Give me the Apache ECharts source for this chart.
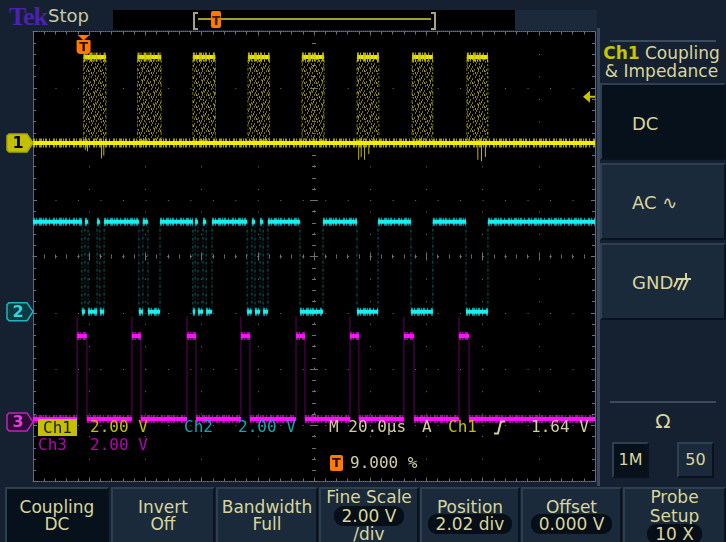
<!DOCTYPE html>
<html>
<head>
<meta charset="utf-8">
<title>Tek — Ch1 Coupling &amp; Impedance</title>
<script src="https://cdn.jsdelivr.net/npm/echarts@6/dist/echarts.min.js"></script>
<style>
  html, body { margin:0; padding:0; width:726px; height:542px; overflow:hidden; background:#152131; }
  .abs { position:absolute; }
  #scope { position:absolute; left:0; top:0; width:726px; height:542px; z-index:1; }
  .ui { font-family:"DejaVu Sans", sans-serif; color:#d9d59d; }
  .mono { position:absolute; font-family:"DejaVu Sans Mono", monospace; font-size:16px; line-height:18px; white-space:pre; z-index:2; }
  .btn { position:absolute; box-sizing:border-box; background:#1a2a3b;
         border-top:2px solid #2e3f52; border-left:2px solid #2e3f52;
         border-right:2px solid #0a121c; border-bottom:2px solid #0a121c; }
  .btn.sel { background:#07111c; }
  .bm { top:487px; height:57px; font-size:17px; text-align:center; }
  .bm .t { position:absolute; left:0; right:0; line-height:18px; white-space:nowrap; }
  .pill { background:#060e18; border-radius:9px; padding:0 8px; }
  .rp { font-size:18px; }
  .rp .t { position:absolute; left:30px; line-height:20px; white-space:nowrap; }
</style>
</head>
<body>

<!-- top status bar -->
<div class="abs" style="left:9px;top:2px;font:bold 26px 'Liberation Serif',serif;color:#4b22b0;letter-spacing:-1px;">Tek</div>
<div class="abs ui" style="left:48px;top:5px;font-size:18px;color:#c9c8a4;">Stop</div>
<div class="abs" style="left:113px;top:10px;width:402px;height:20px;background:#000;"></div>
<div class="abs" style="left:515px;top:10px;width:82px;height:20px;background:#1c293a;"></div>
<div class="abs" style="left:193px;top:12px;width:3px;height:14px;border:2px solid #a8a47a;border-right:none;"></div>
<div class="abs" style="left:431px;top:12px;width:3px;height:14px;border:2px solid #a8a47a;border-left:none;"></div>
<div class="abs" style="left:198px;top:18px;width:233px;height:2px;background:#a29e2c;"></div>
<div class="abs" style="left:211px;top:11px;width:10px;height:17px;background:#ff7800;border-radius:2px;font:bold 12px 'DejaVu Sans';color:#402000;text-align:center;line-height:20px;">T</div>

<!-- right side menu -->
<div class="abs" style="left:597px;top:28px;width:3px;height:458px;background:#3a4a5c;"></div>
<div class="abs" style="left:610px;top:40px;width:106px;height:2px;background:#3b4c5f;"></div>
<div class="abs ui" style="left:597px;top:44px;width:129px;text-align:center;font-size:17px;line-height:18px;white-space:nowrap;"><b style="color:#c8c400;">Ch1</b> Coupling</div>
<div class="abs ui" style="left:597px;top:62px;width:129px;text-align:center;font-size:17px;line-height:18px;white-space:nowrap;">&amp; Impedance</div>
<div class="btn sel ui rp" style="left:600px;top:83px;width:126px;height:77px;"><div class="t" style="top:29px;">DC</div></div>
<div class="btn ui rp" style="left:600px;top:163px;width:126px;height:77px;"><div class="t" style="top:28px;">AC ∿</div></div>
<div class="btn ui rp" style="left:600px;top:243px;width:126px;height:77px;"><div class="t" style="top:28px;">GND<svg width="20" height="18" viewBox="0 0 20 18" style="vertical-align:-2px;"><path d="M3 6 H18 M13 0 V6 M15 6 L10 17 M10 6 L5 17 M5 6 L1 14" stroke="#d9d59d" stroke-width="2" fill="none"/></svg></div></div>
<div class="abs" style="left:610px;top:401px;width:106px;height:2px;background:#3b4c5f;"></div>
<div class="abs ui" style="left:640px;top:409px;width:46px;text-align:center;font-size:20px;line-height:24px;">Ω</div>
<div class="btn sel ui" style="left:612px;top:442px;width:37px;height:36px;font-size:16px;text-align:center;line-height:32px;">1M</div>
<div class="btn ui" style="left:677px;top:442px;width:37px;height:36px;font-size:16px;text-align:center;line-height:32px;">50</div>

<!-- bottom menu -->
<div class="btn sel ui bm" style="left:5px;width:104px;"><div class="t" style="top:9px;">Coupling</div><div class="t" style="top:26px;">DC</div></div>
<div class="btn ui bm" style="left:111px;width:104px;"><div class="t" style="top:9px;">Invert</div><div class="t" style="top:26px;">Off</div></div>
<div class="btn ui bm" style="left:216px;width:102px;"><div class="t" style="top:9px;">Bandwidth</div><div class="t" style="top:26px;">Full</div></div>
<div class="btn ui bm" style="left:319px;width:100px;"><div class="t" style="top:-1px;">Fine Scale</div><div class="t" style="top:18px;"><span class="pill">2.00 V</span></div><div class="t" style="top:36px;">/div</div></div>
<div class="btn ui bm" style="left:420px;width:100px;"><div class="t" style="top:9px;">Position</div><div class="t" style="top:26px;"><span class="pill">2.02 div</span></div></div>
<div class="btn ui bm" style="left:521px;width:101px;"><div class="t" style="top:9px;">Offset</div><div class="t" style="top:26px;"><span class="pill">0.000 V</span></div></div>
<div class="btn ui bm" style="left:623px;width:103px;"><div class="t" style="top:-1px;">Probe</div><div class="t" style="top:18px;">Setup</div><div class="t" style="top:36px;"><span class="pill">10 X</span></div></div>

<div id="scope"></div>

<!-- on-screen readouts -->
<div class="mono" style="left:38px;top:419px;width:39px;height:17px;background:#c4c000;color:#1a1a00;text-align:center;line-height:17px;">Ch1</div>
<div class="mono" style="left:90px;top:418px;color:#c4c000;">2.00 V</div>
<div class="mono" style="left:184px;top:418px;color:#10a8b4;">Ch2</div>
<div class="mono" style="left:238px;top:418px;color:#10a8b4;">2.00 V</div>
<div class="mono" style="left:329px;top:418px;color:#d3cfa2;">M 20.0µs</div>
<div class="mono" style="left:422px;top:418px;color:#d3cfa2;">A</div>
<div class="mono" style="left:448px;top:418px;color:#c4c000;">Ch1</div>
<svg class="abs" style="left:493px;top:420px;z-index:2;" width="14" height="15" viewBox="0 0 14 15"><path d="M1 13.5 H5 L8 1.5 H12" stroke="#d3cfa2" stroke-width="2" fill="none"/></svg>
<div class="mono" style="left:531px;top:418px;color:#d3cfa2;">1.64 V</div>
<div class="mono" style="left:38px;top:436px;color:#b800b8;">Ch3</div>
<div class="mono" style="left:90px;top:436px;color:#b800b8;">2.00 V</div>
<div class="abs" style="left:330px;top:455px;width:13px;height:16px;background:#ff7a00;border-radius:2px;z-index:2;font:bold 13px 'DejaVu Sans';color:#2a1000;text-align:center;line-height:16px;">T</div>
<div class="mono" style="left:350px;top:454px;color:#d3cfa2;">9.000 %</div>

<script>
// Horizontal: 20 µs/div over 10 divisions; vertical: 8 divisions, 2 V/div on every channel.
const X_MIN = 0, X_MAX = 200, X_DIV = 20;
const Y_MIN = -4, Y_MAX = 4;
const VOLTS_PER_DIV = 2;

const triggerTime = 18;     // µs from left edge (9.000 % of record)
const triggerLevel = 1.64;  // V on Ch1

// Channel 1 (yellow): quiet line with bursts of activity
const ch1Offset = 2.02;
const ch1Levels = [0.0, 3.05];            // low, high (V)
const ch1BurstStart = [18.0, 37.2, 56.9, 76.5, 95.7, 115.3, 134.9, 154.4];
const ch1BurstEnd   = [26.0, 45.6, 64.9, 84.2, 103.6, 123.1, 142.3, 161.9];
const ch1SpikeTimes = [18.6, 19.4, 24.4, 25.2, 115.9, 116.8, 118.0, 119.5, 158.3, 159.6, 161.0];
const ch1SpikeVolts = [-0.25, -0.3, -0.55, -0.45, -0.6, -0.5, -0.6, -0.4, -0.6, -0.65, -0.5];

// Channel 2 (cyan): idles high, drops low during each burst
const ch2Offset = -0.98;
const ch2Levels = [0.0, 3.2];
const ch2LowStart = [17.4, 19.6, 23.8, 37.7, 40.9, 56.9, 58.7, 61.6, 76.2, 79.0, 81.9, 95.0, 115.3, 134.5, 154.1];
const ch2LowEnd   = [18.5, 22.8, 25.3, 39.1, 45.2, 57.7, 60.5, 63.7, 77.9, 80.8, 83.6, 103.2, 122.8, 142.3, 161.9];

// Channel 3 (magenta): short strobe ahead of each burst
const ch3Offset = -2.94;
const ch3Levels = [0.1, 3.05];
const ch3Overshoot = 3.75;
const ch3PulseStart = [15.7, 35.2, 54.8, 74.0, 93.6, 112.8, 132.0, 151.6];
const ch3PulseEnd   = [19.2, 38.4, 58.0, 77.2, 96.8, 116.0, 135.6, 155.2];

const toDiv = (offset, volts) => offset + volts / VOLTS_PER_DIV;
const GAP = '-';

function flatSegments(starts, ends, y) {
  const d = [];
  starts.forEach((s, i) => { d.push([s, y], [ends[i], y], [ends[i], GAP]); });
  return d;
}
function verticals(times, yFrom, yTo) {
  const d = [];
  times.forEach((t, i) => {
    const a = Array.isArray(yFrom) ? yFrom[i] : yFrom;
    const b = Array.isArray(yTo) ? yTo[i] : yTo;
    d.push([t, a], [t, b], [t, GAP]);
  });
  return d;
}
// idle-high signal with low intervals
function idleHigh(lowStart, lowEnd, lo, hi) {
  const low = [], high = [], edge = [];
  let t = X_MIN;
  lowStart.forEach((s, i) => {
    high.push([t, hi], [s, hi], [s, GAP]);
    low.push([s, lo], [lowEnd[i], lo], [lowEnd[i], GAP]);
    edge.push([s, hi], [s, lo], [s, GAP], [lowEnd[i], lo], [lowEnd[i], hi], [lowEnd[i], GAP]);
    t = lowEnd[i];
  });
  high.push([t, hi], [X_MAX, hi]);
  return { low, high, edge };
}
// idle-low signal with high pulses (rising edge overshoots)
function idleLow(pStart, pEnd, lo, hi, over) {
  const low = [], high = [], edge = [];
  let t = X_MIN;
  pStart.forEach((s, i) => {
    low.push([t, lo], [s, lo], [s, GAP]);
    high.push([s, hi], [pEnd[i], hi], [pEnd[i], GAP]);
    edge.push([s, lo], [s, over], [s, GAP], [pEnd[i], hi], [pEnd[i], lo], [pEnd[i], GAP]);
    t = pEnd[i];
  });
  low.push([t, lo], [X_MAX, lo]);
  return { low, high, edge };
}

// dot texture for the persistence inside each burst
function burstTile() {
  const c = document.createElement('canvas');
  c.width = 12; c.height = 12;
  const g = c.getContext('2d');
  g.fillStyle = 'rgba(150,142,16,1)';
  [[0,0],[5,1],[9,0],[2,3],[7,4],[11,3],[4,6],[9,7],[0,7],[6,9],[2,10],[10,10],[8,2],[3,8],[11,6],[5,11]]
    .forEach(([x, y]) => g.fillRect(x, y, 1, 2));
  g.fillStyle = 'rgba(200,190,30,1)';
  [[1,5],[7,0],[10,8],[4,10]].forEach(([x, y]) => g.fillRect(x, y, 1, 2));
  return c;
}

const c1lo = toDiv(ch1Offset, ch1Levels[0]), c1hi = toDiv(ch1Offset, ch1Levels[1]);
const c2 = idleHigh(ch2LowStart, ch2LowEnd, toDiv(ch2Offset, ch2Levels[0]), toDiv(ch2Offset, ch2Levels[1]));
const c3 = idleLow(ch3PulseStart, ch3PulseEnd, toDiv(ch3Offset, ch3Levels[0]), toDiv(ch3Offset, ch3Levels[1]), toDiv(ch3Offset, ch3Overshoot));

const FUZZ = [2, 1, 1, 2, 3, 1, 1, 1, 2, 2, 1, 3];
function trace(name, data, color, width, z, extra) {
  return Object.assign({
    name, type: 'line', data, xAxisIndex: 0, yAxisIndex: 0,
    symbol: 'none', showSymbol: false, connectNulls: false, silent: true, z,
    animation: false, emphasis: { disabled: true },
    lineStyle: { color, width, cap: 'butt', join: 'miter' }
  }, extra || {});
}
function fuzz(name, data, color, width, z) {
  return trace(name, data, color, width, z, { lineStyle: { color, width, type: FUZZ, cap: 'butt' } });
}
function faint(name, data, color, z) {
  return trace(name, data, color, 1, z, { lineStyle: { color, width: 1, type: [3, 2, 1, 2], cap: 'butt' } });
}

const GRID = '#707070', EDGE = '#68708a';
const DOTS = [1, 21.48];
function xAx(pos, offset, inside, grid, line) {
  return {
    type: 'value', min: X_MIN, max: X_MAX, interval: X_DIV, position: pos, offset,
    axisLine: { show: true, onZero: false, lineStyle: { color: line ? EDGE : GRID, width: 1, type: line ? [1, 1] : DOTS } },
    axisTick: { show: true, inside, length: 4, lineStyle: { color: line ? EDGE : GRID } },
    minorTick: { show: true, splitNumber: 5, length: line ? 3 : 2, lineStyle: { color: line ? EDGE : GRID } },
    axisLabel: { show: false },
    splitLine: { show: grid, lineStyle: { color: GRID, width: 1, type: DOTS } }
  };
}
function yAx(pos, offset, inside, grid, line) {
  return {
    type: 'value', min: Y_MIN, max: Y_MAX, interval: 1, position: pos, offset,
    axisLine: { show: true, onZero: false, lineStyle: { color: line ? EDGE : GRID, width: 1, type: line ? [1, 1] : DOTS } },
    axisTick: { show: true, inside, length: 4, lineStyle: { color: line ? EDGE : GRID } },
    minorTick: { show: true, splitNumber: 5, length: line ? 3 : 2, lineStyle: { color: line ? EDGE : GRID } },
    axisLabel: { show: false },
    splitLine: { show: grid, lineStyle: { color: GRID, width: 1, type: DOTS } }
  };
}

const chart = echarts.init(document.getElementById('scope'), null, { renderer: 'canvas' });
chart.setOption({
  animation: false,
  backgroundColor: 'transparent',
  grid: { left: 33, top: 31.5, width: 562, height: 450, show: true, backgroundColor: '#000', borderWidth: 0, outerBoundsMode: 'none', containLabel: false },
  xAxis: [
    xAx('bottom', 0, true, true, true),
    xAx('top', 0, true, false, true),
    xAx('bottom', -225, false, false, false),
    xAx('top', -225, false, false, false)
  ],
  yAxis: [
    yAx('left', 0, true, true, true),
    yAx('right', 0, true, false, true),
    yAx('left', -281, false, false, false),
    yAx('right', -281, false, false, false)
  ],
  series: [
    // Ch1
    trace('Ch1 bursts', flatSegments(ch1BurstStart, ch1BurstEnd, c1hi), '#ece800', 4, 2, {
      markArea: {
        silent: true, label: { show: false },
        itemStyle: { color: { image: burstTile(), repeat: 'repeat' }, opacity: 0.8 },
        data: ch1BurstStart.map((s, i) => [{ coord: [s, c1lo] }, { coord: [ch1BurstEnd[i], c1hi] }])
      }
    }),
    fuzz('Ch1 bursts fuzz', flatSegments(ch1BurstStart, ch1BurstEnd, c1hi), 'rgba(205,200,0,0.85)', 9, 2),
    faint('Ch1 edges', verticals(ch1BurstStart.concat(ch1BurstEnd), c1lo, c1hi), 'rgba(200,195,20,0.6)', 3),
    trace('Ch1 spikes', verticals(ch1SpikeTimes, c1lo, ch1SpikeVolts.map(v => toDiv(ch1Offset, v))), 'rgba(220,215,20,0.85)', 1, 3),
    fuzz('Ch1 fuzz', [[X_MIN, c1lo], [X_MAX, c1lo]], 'rgba(190,185,0,0.85)', 9, 4),
    trace('Ch1', [[X_MIN, c1lo], [X_MAX, c1lo]], '#f2ee00', 4, 5),
    // Ch2
    faint('Ch2 edges', c2.edge, 'rgba(0,175,180,0.6)', 6),
    fuzz('Ch2 fuzz hi', c2.high, 'rgba(0,190,200,0.85)', 8, 6),
    fuzz('Ch2 fuzz lo', c2.low, 'rgba(0,190,200,0.85)', 8, 6),
    trace('Ch2 hi', c2.high, '#18f0f0', 4, 7),
    trace('Ch2 lo', c2.low, '#18f0f0', 4, 7),
    // Ch3
    trace('Ch3 edges', c3.edge, 'rgba(180,0,180,0.55)', 1, 8),
    fuzz('Ch3 fuzz hi', c3.high, 'rgba(210,0,210,0.85)', 8, 8),
    fuzz('Ch3 fuzz lo', c3.low, 'rgba(210,0,210,0.85)', 8, 8),
    trace('Ch3 hi', c3.high, '#ff10ff', 4, 9),
    trace('Ch3 lo', c3.low, '#ff10ff', 4, 9)
  ]
});

// channel ground markers, trigger position and trigger level, placed through the axes
function px(x, y) { return chart.convertToPixel({ seriesIndex: 0 }, [x, y]); }
const leftX = px(X_MIN, 0)[0], rightX = px(X_MAX, 0)[0], topY = px(0, Y_MAX)[1];
function marker(offset, label, fill, stroke, textColor) {
  const y = px(X_MIN, offset)[1];
  const x0 = 7, x1 = leftX - 6;
  return [
    { type: 'polygon', z: 100, shape: { points: [[x0 + 2, y - 9], [x1, y - 9], [leftX, y], [x1, y + 9], [x0 + 2, y + 9], [x0, y + 7], [x0, y - 7]] },
      style: { fill, stroke, lineWidth: 1.5 } },
    { type: 'text', z: 101, x: (x0 + x1) / 2 + 1, y: y + 1,
      style: { text: label, fill: textColor, font: 'bold 16px "DejaVu Sans"', align: 'center', verticalAlign: 'middle' } }
  ];
}
const tX = px(triggerTime, 0)[0];
const tLevelY = px(X_MAX, toDiv(ch1Offset, triggerLevel))[1];
chart.setOption({
  graphic: [].concat(
    marker(ch1Offset, '1', '#c2c000', '#a8a600', '#000'),
    marker(ch2Offset, '2', '#0b3b42', '#22b4bc', '#30d8e0'),
    marker(ch3Offset, '3', '#2c0c34', '#c020c0', '#e040e0'),
    [
      { type: 'polygon', z: 100, shape: { points: [[tX - 6, topY + 3.5], [tX + 6, topY + 3.5], [tX, topY + 9]] }, style: { fill: '#ff7800' } },
      { type: 'rect', z: 100, shape: { x: tX - 7, y: topY + 8.5, width: 14, height: 14, r: [1, 1, 4, 4] }, style: { fill: '#ff7800' } },
      { type: 'text', z: 101, x: tX, y: topY + 16, style: { text: 'T', fill: '#2a1000', font: 'bold 13px "DejaVu Sans"', align: 'center', verticalAlign: 'middle' } },
      { type: 'polygon', z: 100, shape: { points: [[rightX - 12, tLevelY], [rightX - 5, tLevelY - 6], [rightX - 5, tLevelY + 6]] }, style: { fill: '#c8c400' } },
      { type: 'line', z: 100, shape: { x1: rightX - 6, y1: tLevelY, x2: rightX, y2: tLevelY }, style: { stroke: '#c8c400', lineWidth: 2 } }
    ]
  )
});
</script>
</body>
</html>
